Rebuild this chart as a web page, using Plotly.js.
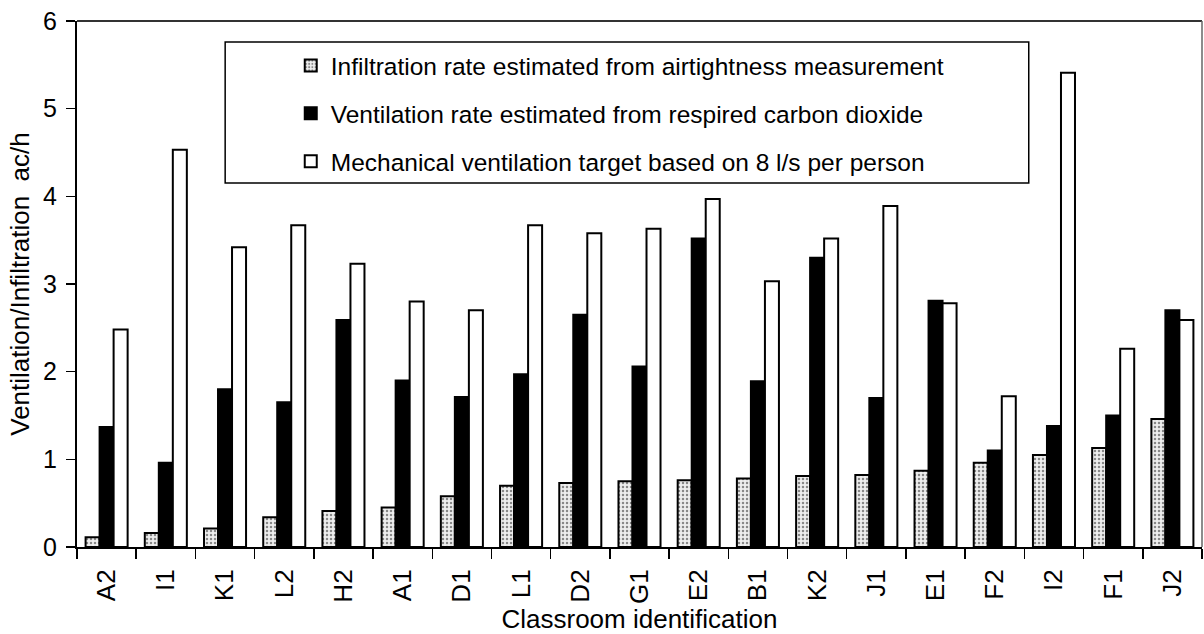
<!DOCTYPE html>
<html>
<head>
<meta charset="utf-8">
<script src="https://cdn.plot.ly/plotly-3.0.1.min.js"></script>
<style>html,body{margin:0;padding:0;background:#fff;}#chart{width:1204px;height:634px;}</style>
</head>
<body>
<div id="chart"></div>
<script>
const classrooms = ["A2","I1","K1","L2","H2","A1","D1","L1","D2","G1","E2","B1","K2","J1","E1","F2","I2","F1","J2"];
const infiltration = [0.11,0.16,0.21,0.34,0.41,0.45,0.58,0.70,0.73,0.75,0.76,0.78,0.81,0.82,0.87,0.96,1.05,1.13,1.46];
const ventilationCO2 = [1.37,0.96,1.80,1.65,2.59,1.90,1.71,1.97,2.65,2.06,3.52,1.89,3.30,1.70,2.81,1.10,1.38,1.50,2.70];
const mechanicalTarget = [2.48,4.53,3.42,3.67,3.23,2.80,2.70,3.67,3.58,3.63,3.97,3.03,3.52,3.89,2.78,1.72,5.41,2.26,2.59];
const seriesNames = [
  "Infiltration rate estimated from airtightness measurement",
  "Ventilation rate estimated from respired carbon dioxide",
  "Mechanical ventilation target based on 8 l/s per person"
];

const FONT = "Arial, 'Liberation Sans', Helvetica, sans-serif";
const outline = {color:"#000", width:2};

const traces = [
  {type:"bar", x:classrooms, y:infiltration, name:seriesNames[0], legendgroup:"a",
   marker:{color:"#e6e6e6", line:outline, pattern:{shape:".", fgcolor:"#888", bgcolor:"#eeeeee", size:4, solidity:0.3}}},
  {type:"bar", x:classrooms, y:ventilationCO2, name:seriesNames[1], legendgroup:"b",
   marker:{color:"#000", line:outline}},
  {type:"bar", x:classrooms, y:mechanicalTarget, name:seriesNames[2], legendgroup:"c",
   marker:{color:"#fff", line:outline}}
];

const layout = {
  width:1204, height:634,
  margin:{l:77, r:2, t:21, b:87},
  paper_bgcolor:"#fff", plot_bgcolor:"#fff",
  font:{family:FONT, color:"#000"},
  barmode:"group", bargap:0.29, bargroupgap:0,
  showlegend:true,
  legend:{x:0.19, y:0.958, xanchor:"left", yanchor:"top", bgcolor:"rgba(0,0,0,0)",
          borderwidth:0, font:{family:FONT, size:24.5, color:"#000"},
          traceorder:"grouped", tracegroupgap:13},
  xaxis:{type:"category", tickangle:-90, tickson:"boundaries", ticks:"outside", ticklen:10,
         tickcolor:"#000", tickwidth:1.5, showline:true, linecolor:"#000", linewidth:2,
         showgrid:false, tickfont:{family:FONT, size:26}, ticklabelstandoff:10,
         title:{text:"Classroom identification", font:{family:FONT, size:26}, standoff:6}},
  yaxis:{range:[0,6], dtick:1, ticks:"outside", ticklen:9, tickcolor:"#000", tickwidth:1.5,
         showline:true, linecolor:"#000", linewidth:2, showgrid:false, zeroline:false,
         tickfont:{family:FONT, size:25}, ticklabelstandoff:4,
         title:{text:"Ventilation/Infiltration&nbsp; ac/h", font:{family:FONT, size:26}, standoff:6}},
  shapes:[
    {type:"line", xref:"paper", yref:"paper", x0:0, x1:1, y0:1, y1:1, line:{color:"#333", width:2}},
    {type:"line", xref:"paper", yref:"paper", x0:1, x1:1, y0:0, y1:1, line:{color:"#666", width:1.5}},
    {type:"rect", xref:"paper", yref:"paper", x0:0.1317, x1:0.846, y0:0.692, y1:0.960,
     line:{color:"#000", width:1.5}, fillcolor:"#fff", layer:"above"}
  ]
};

Plotly.newPlot("chart", traces, layout, {displayModeBar:false, staticPlot:true});
</script>
</body>
</html>
